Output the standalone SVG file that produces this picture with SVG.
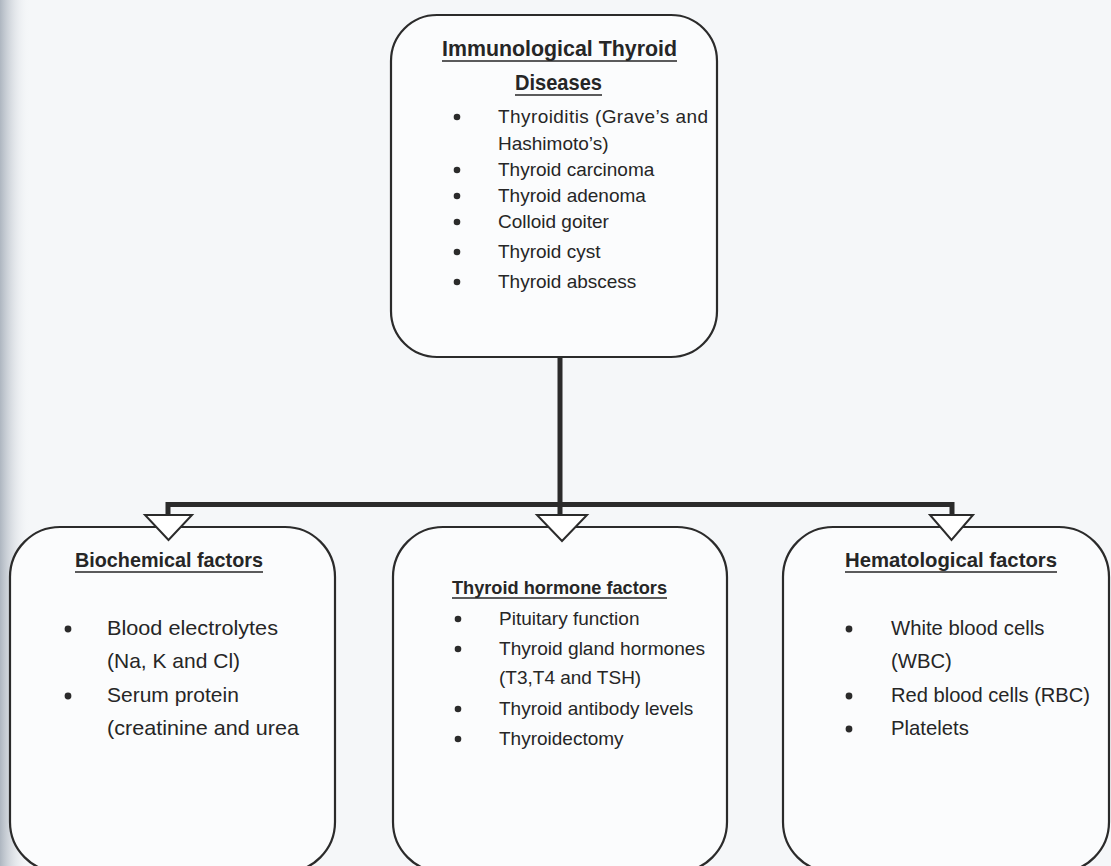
<svg xmlns="http://www.w3.org/2000/svg" width="1111" height="866" viewBox="0 0 1111 866">
<defs>
<linearGradient id="scan" x1="0" y1="0" x2="1" y2="0">
<stop offset="0" stop-color="#aeb6c0"/>
<stop offset="1" stop-color="#f4f6f8" stop-opacity="0"/>
</linearGradient>
<style>
.box{fill:#fbfcfd;stroke:#2b2b2b;stroke-width:2.2}
.t{font-family:"Liberation Sans",Arial,sans-serif;fill:#262626}
.h{font-weight:bold}
.ul{stroke:#262626;stroke-width:1.6}
.bar{stroke:#2b2b2b;stroke-width:5;fill:none}
.tri{fill:#ffffff;stroke:#2b2b2b;stroke-width:2}
.dot{fill:#2b2b2b}
</style>
</defs>
<rect width="1111" height="866" fill="#f5f7f9"/>
<rect width="30" height="866" fill="url(#scan)"/>

<g id="top-node">
<rect class="box" x="391" y="15" width="326" height="342" rx="46"/>
<text class="t h" x="442" y="56" font-size="21.5" textLength="235" lengthAdjust="spacingAndGlyphs">Immunological Thyroid</text>
<line class="ul" x1="442" y1="61" x2="677" y2="61"/>
<text class="t h" x="515" y="90" font-size="21.5" textLength="87" lengthAdjust="spacingAndGlyphs">Diseases</text>
<line class="ul" x1="515" y1="95" x2="602" y2="95"/>
<g class="dot">
<circle cx="457" cy="117" r="3.3"/>
<circle cx="457" cy="170" r="3.3"/>
<circle cx="457" cy="196" r="3.3"/>
<circle cx="457" cy="222" r="3.3"/>
<circle cx="457" cy="252" r="3.3"/>
<circle cx="457" cy="282" r="3.3"/>
</g>
<g class="t" font-size="19">
<text x="498" y="123" textLength="210" lengthAdjust="spacing">Thyroiditis (Grave’s and</text>
<text x="498" y="150">Hashimoto’s)</text>
<text x="498" y="176">Thyroid carcinoma</text>
<text x="498" y="202">Thyroid adenoma</text>
<text x="498" y="228">Colloid goiter</text>
<text x="498" y="258">Thyroid cyst</text>
<text x="498" y="288">Thyroid abscess</text>
</g>
</g>

<g id="biochemical-node">
<rect class="box" x="10" y="527" width="325" height="345" rx="50"/>
<text class="t h" x="75" y="567" font-size="19.8" textLength="188" lengthAdjust="spacingAndGlyphs">Biochemical factors</text>
<line class="ul" x1="75" y1="572" x2="263" y2="572"/>
<g class="dot">
<circle cx="68" cy="629" r="3.4"/>
<circle cx="68" cy="696" r="3.4"/>
</g>
<g class="t" font-size="21">
<text x="107" y="635" textLength="171" lengthAdjust="spacingAndGlyphs">Blood electrolytes</text>
<text x="107" y="668">(Na, K and Cl)</text>
<text x="107" y="702">Serum protein</text>
<text x="107" y="735" textLength="192" lengthAdjust="spacingAndGlyphs">(creatinine and urea</text>
</g>
</g>

<g id="thyroid-hormone-node">
<rect class="box" x="393" y="527" width="334" height="345" rx="50"/>
<text class="t h" x="452" y="594" font-size="18.2" textLength="215" lengthAdjust="spacingAndGlyphs">Thyroid hormone factors</text>
<line class="ul" x1="452" y1="598" x2="667" y2="598"/>
<g class="dot">
<circle cx="458" cy="619" r="3.3"/>
<circle cx="458" cy="649" r="3.3"/>
<circle cx="458" cy="709" r="3.3"/>
<circle cx="458" cy="739" r="3.3"/>
</g>
<g class="t" font-size="19">
<text x="499" y="625">Pituitary function</text>
<text x="499" y="655" textLength="206" lengthAdjust="spacingAndGlyphs">Thyroid gland hormones</text>
<text x="499" y="684">(T3,T4 and TSH)</text>
<text x="499" y="715">Thyroid antibody levels</text>
<text x="499" y="745">Thyroidectomy</text>
</g>
</g>

<g id="hematological-node">
<rect class="box" x="783" y="527" width="326" height="345" rx="50"/>
<text class="t h" x="845" y="567" font-size="19.9" textLength="212" lengthAdjust="spacingAndGlyphs">Hematological factors</text>
<line class="ul" x1="845" y1="572" x2="1057" y2="572"/>
<g class="dot">
<circle cx="849" cy="629" r="3.4"/>
<circle cx="849" cy="696" r="3.4"/>
<circle cx="849" cy="729" r="3.4"/>
</g>
<g class="t" font-size="20.3">
<text x="891" y="635">White blood cells</text>
<text x="891" y="668">(WBC)</text>
<text x="891" y="702" textLength="199" lengthAdjust="spacingAndGlyphs">Red blood cells (RBC)</text>
<text x="891" y="735">Platelets</text>
</g>
</g>

<g id="connectors">
<line class="bar" x1="560" y1="357" x2="560" y2="516"/>
<polyline class="bar" points="168,516 168,504.5 952,504.5 952,516"/>
<polygon class="tri" points="145,515 192,515 168.5,540"/>
<polygon class="tri" points="537,515 587,515 562,541"/>
<polygon class="tri" points="930,515 973,515 951.5,540"/>
</g>
</svg>
